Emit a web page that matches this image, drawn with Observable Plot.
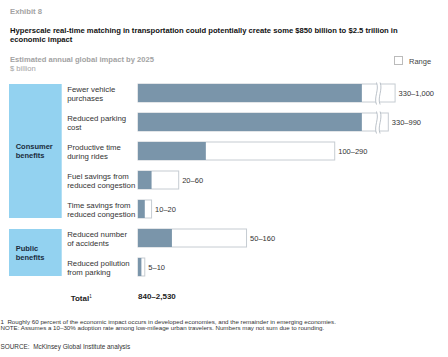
<!DOCTYPE html>
<html><head><meta charset="utf-8">
<script src="https://cdn.jsdelivr.net/npm/d3@7"></script>
<script src="https://cdn.jsdelivr.net/npm/@observablehq/plot@0.6"></script>
<style>
body{margin:0;background:#fff;font-family:"Liberation Sans",Arial,Helvetica,sans-serif;}
#wrap{position:relative;width:448px;height:357px;overflow:hidden;background:#fff;}
.abs{position:absolute;white-space:nowrap;}
#chart{position:absolute;left:0;top:70px;}
</style></head><body><div id="wrap">
<div class="abs" style="left:10px;top:7.5px;font-size:7.7px;line-height:8px;font-weight:bold;color:#a3a3a3;">Exhibit 8</div>
<div class="abs" style="left:10px;top:25.5px;font-size:7.65px;line-height:9.3px;font-weight:bold;color:#111;">Hyperscale real-time matching in transportation could potentially create some $850 billion to $2.5 trillion in<br>economic impact</div>
<div class="abs" style="left:10px;top:55px;font-size:7.6px;line-height:9px;color:#a3a3a3;"><b>Estimated annual global impact by 2025</b><br>$ billion</div>
<div class="abs" style="left:394px;top:56px;width:7px;height:7px;border:1px solid #bbb;"></div>
<div class="abs" style="left:409px;top:56.5px;font-size:7.5px;line-height:9px;color:#444;">Range</div>
<div id="chart"></div>
<div class="abs" id="totalLbl" style="left:70.7px;top:292px;font-size:8px;line-height:10px;font-weight:bold;color:#222;"></div>
<div class="abs" id="totalVal" style="left:138px;top:292px;font-size:8px;line-height:10px;font-weight:bold;color:#222;"></div>
<div class="abs" style="left:0.5px;top:319.3px;font-size:6.2px;line-height:6px;color:#333;">1&nbsp; Roughly 60 percent of the economic impact occurs in developed economies, and the remainder in emerging economies.<br>NOTE: Assumes a 10–30% adoption rate among low-mileage urban travelers. Numbers may not sum due to rounding.</div>
<div class="abs" style="left:0.5px;top:342.5px;font-size:6.4px;line-height:7px;color:#333;">SOURCE:&nbsp; McKinsey Global Institute analysis</div>
</div>
<script>
const categories = [
  "Fewer vehicle\npurchases",
  "Reduced parking\ncost",
  "Productive time\nduring rides",
  "Fuel savings from\nreduced congestion",
  "Time savings from\nreduced congestion",
  "Reduced number\nof accidents",
  "Reduced pollution\nfrom parking"
];
const groups = ["Consumer benefits","Consumer benefits","Consumer benefits","Consumer benefits","Consumer benefits","Public benefits","Public benefits"];
const groupNames = ["Consumer\nbenefits", "Public\nbenefits"];
const groupKeys = ["Consumer benefits", "Public benefits"];
const lowValues = [330, 330, 100, 20, 10, 50, 5];
const highValues = [1000, 990, 290, 60, 20, 160, 10];
const rangeLabels = ["330–1,000", "330–990", "100–290", "20–60", "10–20", "50–160", "5–10"];
const totalName = "Total";
const totalValue = "840–2,530";

// axis break (values above BREAK_MIN are shown shifted left by BREAK_SHIFT)
const BREAK_MIN = 500, BREAK_SHIFT = 621, BREAK_MID = 353.5;

const rows = categories.map((c, i) => ({
  cat: c, group: groups[i], low: lowValues[i], high: highValues[i], label: rangeLabels[i],
  broken: highValues[i] > BREAK_MIN,
  end: highValues[i] > BREAK_MIN ? highValues[i] - BREAK_SHIFT : highValues[i]
}));

const gapSymbol = {draw(ctx, size) {
  const h = Math.sqrt(size / Math.PI);
  ctx.moveTo(-1.8, -h);
  ctx.bezierCurveTo(1.2, -h/3, -4.8, h/3, -1.8, h);
  ctx.lineTo(1.8, h);
  ctx.bezierCurveTo(-1.2, h/3, 4.8, -h/3, 1.8, -h);
  ctx.closePath();
}};
const waveSymbol = {draw(ctx, size) {
  const h = Math.sqrt(size / Math.PI);
  for (const ox of [-1.8, 1.8]) {
    ctx.moveTo(ox, -h);
    ctx.bezierCurveTo(ox + 3, -h/3, ox - 3, h/3, ox, h);
  }
}};

const plot = Plot.plot({
  width: 448, height: 225,
  marginLeft: 138, marginRight: 0, marginTop: 2.2, marginBottom: 6.5,
  x: {domain: [0, 457], axis: null},
  y: {domain: categories, axis: null, padding: 0.374},
  style: {fontFamily: '"Liberation Sans", Arial, sans-serif', fontSize: "8px", color: "#333", background: "transparent"},
  marks: [
    Plot.barX(rows, {y: "cat", x1: 0, x2: "end", fill: "white", stroke: "#c6ccd2", strokeWidth: 1}),
    Plot.barX(rows, {y: "cat", x1: 0, x2: "low", fill: "#7a95aa"}),
    Plot.dot(rows.filter(d => d.broken), {x: BREAK_MID, y: "cat", r: 11, symbol: gapSymbol, fill: "white", stroke: "none"}),
    Plot.dot(rows.filter(d => d.broken), {x: BREAK_MID, y: "cat", r: 11, symbol: waveSymbol, fill: "none", stroke: "#aab3bb", strokeWidth: 0.8}),
    Plot.text(rows, {y: "cat", x: "end", text: "label", dx: 3, textAnchor: "start", fontSize: 7.5, fill: "#333"}),
    Plot.text(rows, {y: "cat", text: "cat", frameAnchor: "left", dx: -71.3, textAnchor: "start", lineHeight: 1.22, fontSize: 7.8, fill: "#333"})
  ]
});

// group boxes drawn through the plot's own y scale
const ys = plot.scale("y");
const svg = d3.select(plot);
const gBox = svg.insert("g", ":first-child");
groupKeys.forEach((g, gi) => {
  const members = rows.filter(r => r.group === g);
  const top = ys.apply(members[0].cat);
  const bottom = ys.apply(members[members.length - 1].cat) + ys.bandwidth;
  gBox.append("rect").attr("x", 9).attr("y", top).attr("width", 52.7).attr("height", bottom - top).attr("fill", "#93d2f0");
  const lines = groupNames[gi].split("\n");
  const mid = (top + bottom) / 2;
  lines.forEach((ln, li) => {
    gBox.append("text").attr("x", 15.7).attr("y", mid + (li - (lines.length - 1) / 2) * 9)
      .attr("dy", "0.35em").attr("text-anchor", "start").attr("font-size", 7.5).attr("font-weight", "bold").attr("fill", "#1a2b3c").text(ln);
  });
});

document.getElementById("chart").appendChild(plot);
document.getElementById("totalLbl").innerHTML = totalName + "<sup style='font-size:4.5px;vertical-align:3px;font-weight:normal'>1</sup>";
document.getElementById("totalVal").textContent = totalValue;
</script>
</body></html>
